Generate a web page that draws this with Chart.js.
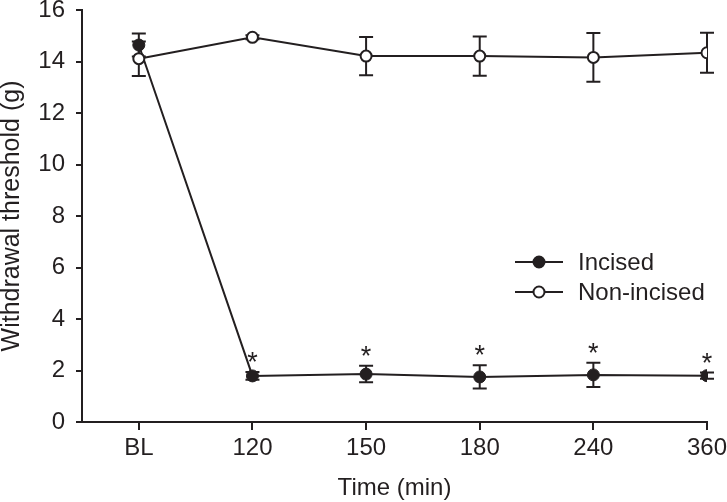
<!DOCTYPE html>
<html>
<head>
<meta charset="utf-8">
<script src="https://cdn.jsdelivr.net/npm/chart.js@4.4.1/dist/chart.umd.min.js"></script>
<style>
  html, body { margin: 0; padding: 0; background: #fff; }
  #wrap { width: 727px; height: 502px; }
</style>
</head>
<body>
<div id="wrap"><canvas id="chart" width="727" height="502"></canvas></div>
<script>
var categories = ['BL', '120', '150', '180', '240', '360'];
var incisedMean = [14.64, 1.79, 1.86, 1.75, 1.83, 1.80];
var incisedErr = [0.45, 0.15, 0.32, 0.45, 0.47, 0.12];
var incisedSig = [false, true, true, true, true, true];
var nonIncisedMean = [14.11, 14.94, 14.21, 14.21, 14.16, 14.34];
var nonIncisedErr = [0.67, 0.08, 0.74, 0.76, 0.95, 0.78];
var yTicks = [0, 2, 4, 6, 8, 10, 12, 14, 16];

var ink = '#231f20';
var fontFamily = '"Liberation Sans", Arial, Helvetica, sans-serif';

function toPoints(values) {
    return values.map(function(v, i) { return { x: i, y: v }; });
}

// error bars + asterisks, drawn under the markers
var errorBars = {
    id: 'errorBars',
    beforeDatasetsDraw: function(chart) {
        var ctx = chart.ctx;
        var xs = chart.scales.x, ys = chart.scales.y;
        ctx.save();
        ctx.strokeStyle = ink;
        ctx.lineWidth = 2;
        chart.data.datasets.forEach(function(ds) {
            ds.errors.forEach(function(e, i) {
                var x = xs.getPixelForValue(i);
                var yTop = ys.getPixelForValue(ds.data[i].y + e);
                var yBot = ys.getPixelForValue(ds.data[i].y - e);
                ctx.beginPath();
                ctx.moveTo(x, yTop); ctx.lineTo(x, yBot);
                ctx.moveTo(x - 7, yTop); ctx.lineTo(x + 7, yTop);
                ctx.moveTo(x - 7, yBot); ctx.lineTo(x + 7, yBot);
                ctx.stroke();
            });
        });
        ctx.restore();
    },
    afterDatasetsDraw: function(chart) {
        var ctx = chart.ctx;
        var xs = chart.scales.x, ys = chart.scales.y;
        ctx.save();
        ctx.fillStyle = ink;
        ctx.font = '27px ' + fontFamily;
        ctx.textAlign = 'center';
        ctx.textBaseline = 'alphabetic';
        incisedSig.forEach(function(s, i) {
            if (!s) return;
            var x = xs.getPixelForValue(i);
            var y = ys.getPixelForValue(incisedMean[i] + incisedErr[i]);
            ctx.fillText('*', x, y - 1);
        });
        ctx.restore();
    }
};

// legend inside the plot
var insideLegend = {
    id: 'insideLegend',
    afterDraw: function(chart) {
        var ctx = chart.ctx;
        var items = [
            { label: 'Incised', fill: ink, y: 262 },
            { label: 'Non-incised', fill: '#fff', y: 292 }
        ];
        ctx.save();
        items.forEach(function(it) {
            ctx.strokeStyle = ink;
            ctx.lineWidth = 2;
            ctx.beginPath();
            ctx.moveTo(515, it.y); ctx.lineTo(563, it.y);
            ctx.stroke();
            ctx.beginPath();
            ctx.arc(539, it.y, 5.5, 0, Math.PI * 2);
            ctx.fillStyle = it.fill;
            ctx.fill();
            ctx.stroke();
            ctx.fillStyle = ink;
            ctx.font = '24px ' + fontFamily;
            ctx.textAlign = 'left';
            ctx.textBaseline = 'middle';
            ctx.fillText(it.label, 578, it.y + 1);
        });
        ctx.restore();
    }
};

var ctx = document.getElementById('chart').getContext('2d');
var myChart = new Chart(ctx, {
    type: 'line',
    data: {
        datasets: [{
            label: 'Non-incised',
            data: toPoints(nonIncisedMean),
            errors: nonIncisedErr,
            borderColor: ink,
            borderWidth: 2,
            pointRadius: 5.5,
            pointBackgroundColor: '#fff',
            pointBorderColor: ink,
            pointBorderWidth: 2,
            tension: 0
        }, {
            label: 'Incised',
            data: toPoints(incisedMean),
            errors: incisedErr,
            borderColor: ink,
            borderWidth: 2,
            pointRadius: 6,
            pointBackgroundColor: ink,
            pointBorderColor: ink,
            pointBorderWidth: 1,
            tension: 0
        }]
    },
    options: {
        responsive: false,
        animation: false,
        layout: { padding: { top: 10, right: 20, left: 0, bottom: 0 } },
        plugins: {
            legend: { display: false },
            tooltip: { enabled: false }
        },
        scales: {
            x: {
                type: 'linear',
                min: -0.5,
                max: 5,
                afterBuildTicks: function(scale) {
                    scale.ticks = categories.map(function(c, i) { return { value: i }; });
                },
                afterFit: function(scale) {
                    scale.height = 80;
                    scale.paddingLeft = 0;
                    scale.paddingRight = 0;
                },
                ticks: {
                    callback: function(v) { return categories[v]; },
                    color: ink,
                    font: { family: fontFamily, size: 24, lineHeight: 1 },
                    padding: 6,
                    maxRotation: 0
                },
                grid: { drawOnChartArea: false, drawTicks: true, tickLength: 8, color: ink, lineWidth: 2 },
                border: { color: ink, width: 2 },
                title: {
                    display: true,
                    text: 'Time (min)',
                    color: ink,
                    font: { family: fontFamily, size: 24, lineHeight: 1 },
                    padding: { top: 0, bottom: 2 }
                }
            },
            y: {
                min: 0,
                max: 16,
                afterBuildTicks: function(scale) {
                    scale.ticks = yTicks.map(function(v) { return { value: v }; });
                },
                afterFit: function(scale) {
                    scale.width = 82;
                    scale.paddingTop = 0;
                    scale.paddingBottom = 0;
                },
                ticks: {
                    color: ink,
                    font: { family: fontFamily, size: 24, lineHeight: 1 },
                    padding: 11
                },
                grid: { drawOnChartArea: false, drawTicks: true, tickLength: 6, color: ink, lineWidth: 2 },
                border: { color: ink, width: 2 },
                title: {
                    display: true,
                    text: 'Withdrawal threshold (g)',
                    color: ink,
                    font: { family: fontFamily, size: 25, lineHeight: 1 },
                    padding: { top: 0, bottom: 0 }
                }
            }
        }
    },
    plugins: [errorBars, insideLegend]
});
</script>
</body>
</html>
